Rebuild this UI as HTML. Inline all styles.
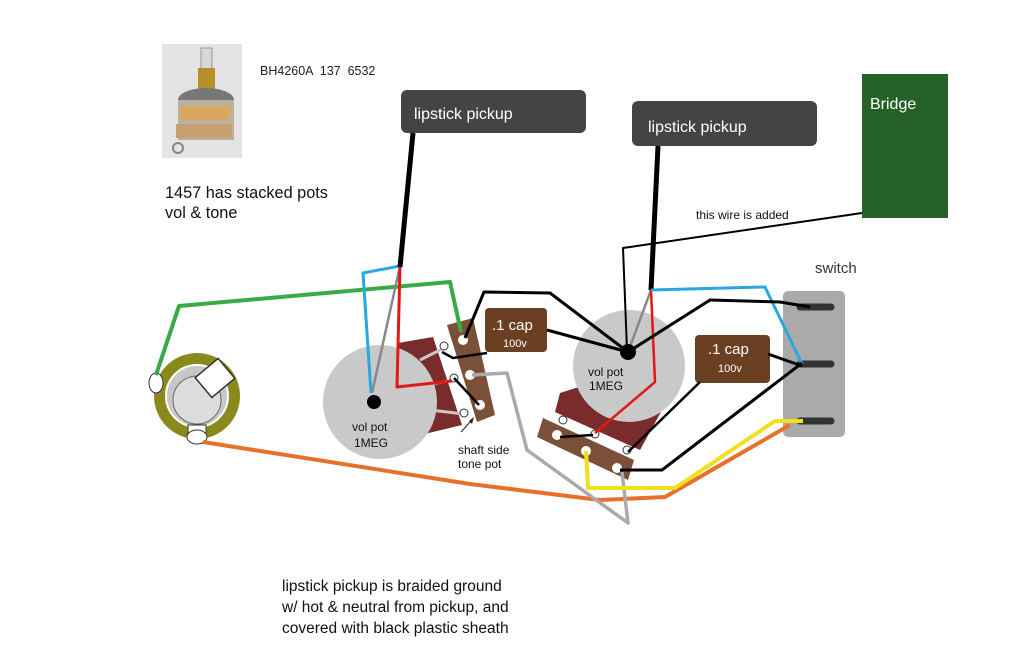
<!DOCTYPE html>
<html><head><meta charset="utf-8"><style>
body{margin:0;background:#fff}
svg{display:block;font-family:"Liberation Sans",sans-serif}
</style></head><body>
<svg width="1024" height="658" viewBox="0 0 1024 658" xmlns="http://www.w3.org/2000/svg">
<!-- pot photo -->
<rect x="162" y="44" width="80" height="114" fill="#e4e4e4"/>
<rect x="201" y="48" width="11" height="22" fill="#d8d8d8" stroke="#999" stroke-width="1"/>
<rect x="198" y="68" width="17" height="22" fill="#b8902a"/>
<ellipse cx="206" cy="100" rx="28" ry="12" fill="#777"/>
<rect x="178" y="100" width="56" height="40" fill="#b8b0a0"/>
<rect x="180" y="106" width="50" height="14" fill="#d8a860"/>
<rect x="176" y="124" width="56" height="14" fill="#c8a070"/>
<circle cx="178" cy="148" r="5" fill="none" stroke="#888" stroke-width="2"/>
<text x="260" y="75" font-size="12.5" fill="#222" xml:space="preserve">BH4260A  137  6532</text>
<text x="165" y="198" font-size="16.3" fill="#111">1457 has stacked pots</text>
<text x="165" y="218" font-size="16.3" fill="#111">vol &amp; tone</text>

<!-- pickups -->
<rect x="401" y="90" width="185" height="43" rx="6" fill="#444"/>
<text x="414" y="119" font-size="16" fill="#fff">lipstick pickup</text>
<rect x="632" y="101" width="185" height="45" rx="6" fill="#444"/>
<text x="648" y="132" font-size="16" fill="#fff">lipstick pickup</text>
<rect x="862" y="74" width="86" height="144" fill="#266127"/>
<text x="870" y="109" font-size="16" fill="#fff">Bridge</text>
<text x="696" y="219" font-size="12" fill="#111">this wire is added</text>
<text x="815" y="273" font-size="15" fill="#333">switch</text>

<!-- switch -->
<rect x="783" y="291" width="62" height="146" rx="5" fill="#aaa"/>
<g stroke="#333" stroke-width="7" stroke-linecap="round">
<line x1="800" y1="307" x2="831" y2="307"/><line x1="800" y1="364" x2="831" y2="364"/><line x1="800" y1="421" x2="831" y2="421"/></g>

<!-- jack -->
<circle cx="197" cy="396" r="43" fill="#8a8a1c"/>
<circle cx="197" cy="396" r="31" fill="#c8c8c8" stroke="#fff" stroke-width="2"/>
<circle cx="197" cy="400" r="24" fill="#ddd" stroke="#666" stroke-width="1"/>
<rect x="200" y="365" width="30" height="26" fill="#fff" stroke="#333" stroke-width="1.5" transform="rotate(-40 215 378)"/>
<ellipse cx="156" cy="383" rx="7" ry="10" fill="#fff" stroke="#333"/>
<rect x="188" y="425" width="18" height="12" fill="#fff" stroke="#333"/>
<ellipse cx="197" cy="437" rx="10" ry="7" fill="#fff" stroke="#333"/>

<!-- left pot -->
<polygon points="398,343 433,337 462,425 433,432 398,440" fill="#7a2b2b"/>
<g stroke="#c8c8c8" stroke-width="3"><line x1="420" y1="360" x2="444" y2="348"/><line x1="425" y1="385" x2="454" y2="380"/><line x1="430" y1="410" x2="464" y2="414"/></g>
<circle cx="380" cy="402" r="57" fill="#c9c9c9"/>
<circle cx="374" cy="402" r="7" fill="#000"/>
<text x="352" y="431" font-size="12" fill="#111">vol pot</text>
<text x="354" y="447" font-size="12" fill="#111">1MEG</text>
<g fill="#fff" stroke="#333" stroke-width="1"><circle cx="444" cy="346" r="4"/><circle cx="454" cy="378" r="4"/><circle cx="464" cy="413" r="4"/></g>
<polygon points="447,325 473,318 495,415 477,422" fill="#7a5038"/>
<g fill="#fff"><circle cx="463" cy="340" r="5"/><circle cx="470" cy="375" r="5"/><circle cx="480" cy="405" r="5"/></g>
<text x="458" y="454" font-size="12" fill="#111">shaft side</text>
<text x="458" y="468" font-size="12" fill="#111">tone pot</text>
<line x1="461" y1="432" x2="471" y2="421" stroke="#222" stroke-width="1"/>
<polygon points="474,417 469,421 472,424" fill="#222"/>

<!-- right pot -->
<polygon points="560,393 585,385 662,410 640,450 555,412" fill="#7a2b2b"/>
<circle cx="629" cy="366" r="56" fill="#c9c9c9"/>
<text x="588" y="376" font-size="12" fill="#111">vol pot</text>
<text x="589" y="390" font-size="12" fill="#111">1MEG</text>
<polygon points="543,418 634,460 628,480 537,437" fill="#7a5038"/>
<g fill="#fff"><circle cx="557" cy="435" r="5"/><circle cx="586" cy="451" r="5"/><circle cx="617" cy="468" r="5"/></g>
<g fill="#fff" stroke="#333" stroke-width="1"><circle cx="563" cy="420" r="4"/><circle cx="595" cy="434" r="4"/><circle cx="627" cy="450" r="4"/></g>

<!-- caps -->
<rect x="485" y="308" width="62" height="44" rx="4" fill="#6b3f22"/>
<text x="492" y="330" font-size="15" fill="#fff">.1 cap</text>
<text x="503" y="347" font-size="11" fill="#fff">100v</text>
<rect x="695" y="335" width="75" height="48" rx="4" fill="#6b3f22"/>
<text x="708" y="354" font-size="15" fill="#fff">.1 cap</text>
<text x="718" y="372" font-size="11" fill="#fff">100v</text>

<!-- wires -->
<g fill="none" stroke-linejoin="round">
<polyline points="203,442 470,484 600,500 665,497 790,425" stroke="#e8702a" stroke-width="4"/>
<polyline points="156,375 179,306 450,282 461,332" stroke="#3aaa48" stroke-width="4"/>
<polyline points="400,266 363,273 371,393" stroke="#28a8e0" stroke-width="3"/>
<line x1="400" y1="266" x2="372" y2="393" stroke="#888" stroke-width="2.5"/>
<polyline points="400,266 397,387 452,381" stroke="#e01818" stroke-width="3"/>
<line x1="413" y1="133" x2="400" y2="267" stroke="#000" stroke-width="5"/>
<polyline points="465,338 484,292 550,293 628,352" stroke="#000" stroke-width="3"/>
<polyline points="442,352 453,358 487,353" stroke="#000" stroke-width="2.5"/>
<line x1="454" y1="378" x2="479" y2="405" stroke="#000" stroke-width="2.5"/>
<line x1="547" y1="330" x2="628" y2="352" stroke="#000" stroke-width="3"/>
<polyline points="472,375 507,373 527,450 628,523 622,472" stroke="#aaa" stroke-width="3.5"/>
<polyline points="586,451 588,488 675,488 775,421 803,421" stroke="#f0e020" stroke-width="4"/>
<polyline points="627,350 623,248 862,213" stroke="#000" stroke-width="2"/>
<line x1="658" y1="146" x2="651" y2="290" stroke="#000" stroke-width="5"/>
<line x1="651" y1="290" x2="628" y2="352" stroke="#888" stroke-width="2.5"/>
<polyline points="651,290 655,382 595,433" stroke="#e01818" stroke-width="2.5"/>
<polyline points="651,290 765,287 802,364" stroke="#28a8e0" stroke-width="3"/>
<polyline points="628,352 710,300 780,302 810,307" stroke="#000" stroke-width="3"/>
<polyline points="768,354 802,366" stroke="#000" stroke-width="3"/>
<polyline points="802,363 662,470 620,470" stroke="#000" stroke-width="3"/>
<polyline points="700,382 628,452" stroke="#000" stroke-width="2.5"/>
<line x1="560" y1="437" x2="593" y2="435" stroke="#000" stroke-width="2.5"/>
</g>
<circle cx="628" cy="352" r="8" fill="#000"/>

<text x="282" y="591" font-size="15.5" fill="#111">lipstick pickup is braided ground</text>
<text x="282" y="612" font-size="15.5" fill="#111">w/ hot &amp; neutral from pickup, and</text>
<text x="282" y="633" font-size="15.5" fill="#111">covered with black plastic sheath</text>
</svg>
</body></html>
